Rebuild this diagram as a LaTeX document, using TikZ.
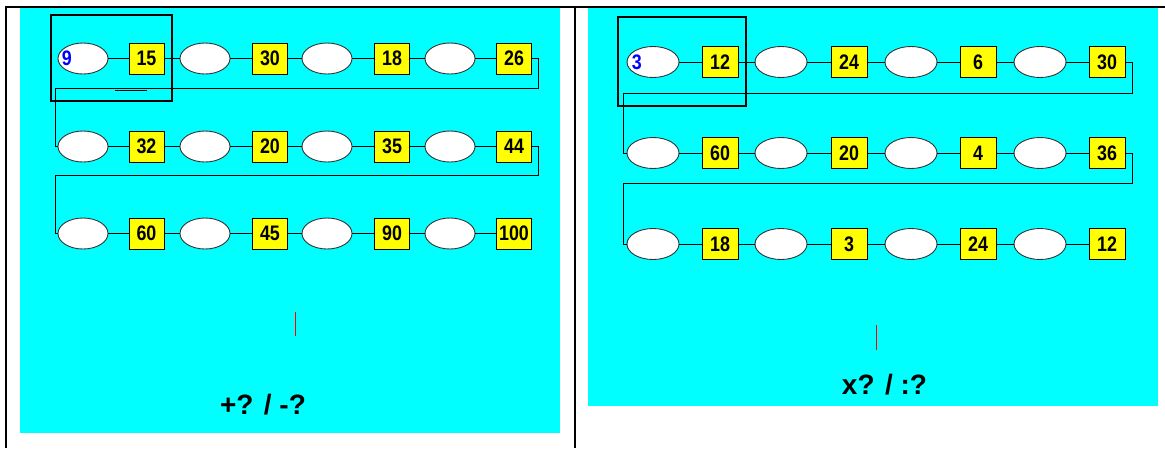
\documentclass[tikz,border=0pt]{standalone}
\usepackage{fontspec}
\setmainfont{Liberation Sans}
\newfontfamily\digitfont[FakeStretch=0.85]{Liberation Sans}
\usetikzlibrary{shapes.geometric}
\definecolor{bgcyan}{RGB}{0,255,255}
\definecolor{boxyellow}{RGB}{255,255,0}
\definecolor{numblue}{RGB}{0,0,255}
\definecolor{edgegray}{RGB}{50,50,50}
\tikzset{
  oval/.style={ellipse, draw=edgegray, fill=white, line width=0.9pt, inner sep=0pt, minimum width=#1, minimum height=31pt},
  oval/.default=50pt,
  numbox/.style={rectangle, draw=black, fill=boxyellow, line width=0.9pt, inner sep=0pt, minimum width=#1, minimum height=31pt,
    font=\digitfont\fontsize{21}{21}\selectfont\bfseries},
  numbox/.default=35pt,
  starttext/.style={anchor=west, inner sep=0pt, text=numblue, font=\digitfont\fontsize{21}{21}\selectfont\bfseries},
  link/.style={draw=black, line width=0.9pt},
  frameline/.style={draw=black, line width=2pt},
  highlight/.style={draw=black, line width=2pt},
  caption/.style={font=\fontsize{28}{28}\selectfont\bfseries, inner sep=0pt},
  cursor/.style={draw=red, line width=1pt}
}
\begin{document}
\begin{tikzpicture}[x=1pt,y=-1pt]
\useasboundingbox (0,0) rectangle (1165,448);
% panels
\fill[bgcyan] (20,8) rectangle (560,433);
\fill[bgcyan] (588,8) rectangle (1158,406);
% table frame
\draw[frameline] (5,7) -- (1165,7);
\draw[frameline] (6,6) -- (6,448);
\draw[frameline] (574.5,6) -- (574.5,448);

% ---------------- left panel ----------------
\foreach \r/\y/\a/\b/\c/\d in {1/58.5/15/30/18/26, 2/146.5/32/20/35/44, 3/233.5/60/45/90/100}{
  \node[oval] (Le\r1) at (83,\y) {};
  \node[numbox] (Lb\r1) at (146.5,\y) {\a};
  \node[oval] (Le\r2) at (205,\y) {};
  \node[numbox] (Lb\r2) at (270,\y) {\b};
  \node[oval] (Le\r3) at (327,\y) {};
  \node[numbox] (Lb\r3) at (392,\y) {\c};
  \node[oval] (Le\r4) at (450,\y) {};
  \node[numbox] (Lb\r4) at (514,\y) {\d};
  \draw[link] (Le\r1) -- (Lb\r1) -- (Le\r2) -- (Lb\r2) -- (Le\r3) -- (Lb\r3) -- (Le\r4) -- (Lb\r4);
}
\node[starttext] (Lstart) at ([xshift=4pt]Le11.west) {9};
\coordinate (Lr1) at (538,88);
\coordinate (Ll1) at (55,88);
\coordinate (Lr2) at (538,175);
\coordinate (Ll2) at (55,175);
\draw[link] (Lb14.east) -| (Lr1) -- (Ll1) |- (Le21.west);
\draw[link] (Lb24.east) -| (Lr2) -- (Ll2) |- (Le31.west);
\draw[highlight] (51,15) rectangle (172,101);
\coordinate (Lm1) at (115,90);
\coordinate (Lm2) at (147,90);
\draw[link] (Lm1) -- (Lm2);
\coordinate (Lc1) at (295,312);
\coordinate (Lc2) at (295,336);
\draw[cursor] (Lc1) -- (Lc2);
\node[caption] (Lcap) at (263,405) {+? / -?};

% ---------------- right panel ----------------
\foreach \r/\y/\a/\b/\c/\d in {1/62/12/24/6/30, 2/153/60/20/4/36, 3/244/18/3/24/12}{
  \node[oval=52pt] (Re\r1) at (653,\y) {};
  \node[numbox=36pt] (Rb\r1) at (720,\y) {\a};
  \node[oval=52pt] (Re\r2) at (781,\y) {};
  \node[numbox=36pt] (Rb\r2) at (849,\y) {\b};
  \node[oval=52pt] (Re\r3) at (911,\y) {};
  \node[numbox=36pt] (Rb\r3) at (978,\y) {\c};
  \node[oval=52pt] (Re\r4) at (1040,\y) {};
  \node[numbox=36pt] (Rb\r4) at (1107,\y) {\d};
  \draw[link] (Re\r1) -- (Rb\r1) -- (Re\r2) -- (Rb\r2) -- (Re\r3) -- (Rb\r3) -- (Re\r4) -- (Rb\r4);
}
\node[starttext] (Rstart) at ([xshift=5pt]Re11.west) {3};
\coordinate (Rr1) at (1132,93);
\coordinate (Rl1) at (623,93);
\coordinate (Rr2) at (1132,183);
\coordinate (Rl2) at (623,183);
\draw[link] (Rb14.east) -| (Rr1) -- (Rl1) |- (Re21.west);
\draw[link] (Rb24.east) -| (Rr2) -- (Rl2) |- (Re31.west);
\draw[highlight] (618,17) rectangle (746,106);
\coordinate (Rc1) at (876,325);
\coordinate (Rc2) at (876,350);
\draw[cursor] (Rc1) -- (Rc2);
\node[caption] (Rcap) at (884.5,385) {x? / :?};
\end{tikzpicture}
\end{document}
